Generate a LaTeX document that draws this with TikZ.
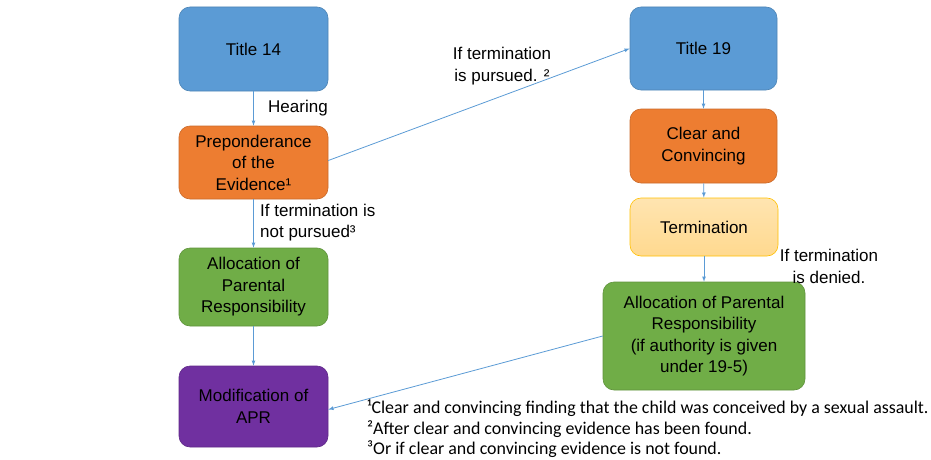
\documentclass[tikz,border=0pt]{standalone}
\usepackage{fontspec}
\setmainfont{Liberation Sans}
\newfontfamily\notefont{Carlito}
\usetikzlibrary{positioning}
\definecolor{boxblue}{HTML}{5B9BD5}
\definecolor{boxorange}{HTML}{ED7D31}
\definecolor{boxgreen}{HTML}{70AD47}
\definecolor{boxpurple}{HTML}{7030A0}
\definecolor{boxyellow}{HTML}{FFD98F}
\definecolor{boxgold}{HTML}{FFC000}
\tikzset{x=1pt,y=-1pt,
    box/.style={rounded corners=11pt,align=center,inner sep=0pt,
        minimum width=149pt,font=\fontsize{17}{21.5}\selectfont,line width=0.6pt},
    link/.style={draw=boxblue,line width=0.8pt,-latex},
    lbl/.style={align=center,font=\fontsize{17}{21.5}\selectfont,inner sep=0pt},
    }
\begin{document}
\begin{tikzpicture}
	\useasboundingbox (0,0) rectangle (931,460);
	% left column: title 14 route
	\node[box,fill=boxblue,draw=boxblue!85!black,minimum height=84pt] (t14) at (253.5,49) {Title 14};
	\node[box,fill=boxorange,draw=boxorange!85!black,minimum height=73pt] (pre) at (253.5,162.5) {Preponderance\\of the\\Evidence¹};
	\node[box,fill=boxgreen,draw=boxgreen!85!black,minimum height=78pt] (aprl) at (253.5,287) {Allocation of\\Parental\\Responsibility};
	\node[box,fill=boxpurple,draw=boxpurple!85!black,minimum height=81pt] (mod) at (253.5,406.5) {Modification of\\APR};
	% right column: title 19 route
	\node[box,fill=boxblue,draw=boxblue!85!black,minimum width=147pt,minimum height=83pt] (t19) at (703.5,48.5) {Title 19};
	\node[box,fill=boxorange,draw=boxorange!85!black,minimum width=147pt,minimum height=74pt] (cc) at (703.5,146) {Clear and\\Convincing};
	\node[box,top color=boxyellow!70!white,bottom color=boxyellow,draw=boxgold,minimum width=148pt,minimum height=58pt] (term) at (704,227) {Termination};
	\node[box,fill=boxgreen,draw=boxgreen!85!black,minimum width=202pt,minimum height=108pt] (aprr) at (704,336) {Allocation of Parental\\Responsibility\\(if authority is given\\under 19-5)};

	\draw[link] (t14) -- (pre);
	\draw[link] (pre) -- (aprl);
	\draw[link] (aprl) -- (mod);
	\draw[link] (pre.east) ++(0,-2) -- (t19.west);
	\draw[link] (t19) -- (cc);
	\draw[link] (cc) -- (term);
	\draw[link] (term) -- (aprr);
	\draw[link] (aprr.west) -- ([yshift=-3pt]mod.east);

	\node[lbl,anchor=west] (hear) at (268,108) {Hearing};
	\node[lbl] (purs) at (502,66) {If termination\\is pursued. ²};
	\node[lbl,align=left,anchor=west] (npurs) at (260,222.5) {If termination is\\not pursued³};
	\node[lbl] (deny) at (829,266.5) {If termination\\is denied.};

	% footnotes
	\node[anchor=north west,align=left,inner sep=0pt,
		font=\notefont\fontsize{17.9}{20.5}\selectfont] (notes) at (367,400)
		{¹Clear and convincing finding that the child was conceived by a sexual assault.\\
		 ²After clear and convincing evidence has been found.\\
		 ³Or if clear and convincing evidence is not found.};
\end{tikzpicture}
\end{document}
